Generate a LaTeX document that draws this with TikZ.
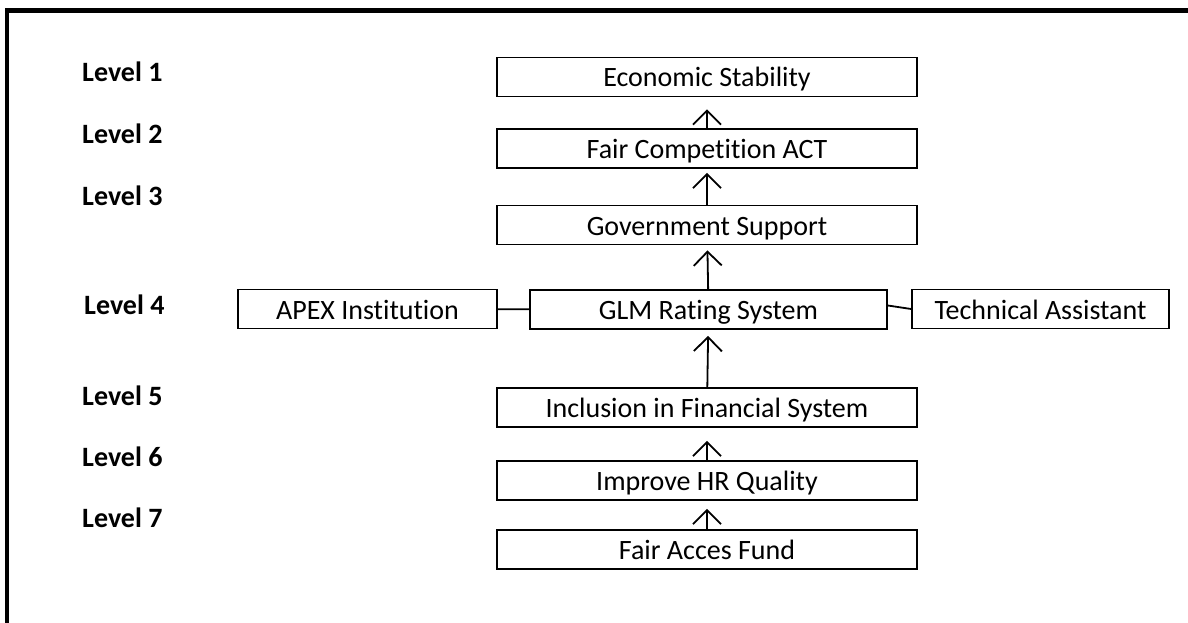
\documentclass[tikz,border=0pt]{standalone}
\usepackage{fontspec}
\setmainfont{Carlito}[Ligatures=NoCommon]
\usetikzlibrary{arrows.meta}
\begin{document}
\begin{tikzpicture}[x=1pt,y=-1pt,
  box/.style={draw,line width=1.8pt,inner sep=0pt,minimum height=39pt,text height=21pt,text depth=1pt,font=\fontsize{28}{33}\selectfont},
  lvl/.style={anchor=base west,inner sep=0pt,font=\fontsize{28}{33}\selectfont\bfseries},
  up/.style={-{Straight Barb[length=14pt,width=28pt]},line width=1.8pt}]
\useasboundingbox (0,0) rectangle (1188,623);
\draw[line width=4.3pt] (7,623) -- (7,10.5) -- (1188,10.5);

\node[lvl] (L1) at (82,82) {Level 1};
\node[lvl] (L2) at (82,143) {Level 2};
\node[lvl] (L3) at (82,205) {Level 3};
\node[lvl] (L4) at (84,314) {Level 4};
\node[lvl] (L5) at (82,405) {Level 5};
\node[lvl] (L6) at (82,466) {Level 6};
\node[lvl] (L7) at (82,527) {Level 7};

\node[box,minimum width=420pt] (E) at (707,77) {Economic Stability};
\node[box,minimum width=420pt] (F) at (707,148.5) {Fair Competition ACT};
\node[box,minimum width=420pt] (G) at (707,225) {Government Support};
\node[box,minimum width=357pt] (R) at (708.5,309.5) {GLM Rating System};
\node[box,minimum width=259pt] (A) at (367.5,309) {APEX Institution};
\node[box,minimum width=257pt] (T) at (1040.5,309) {Technical Assistant};
\node[box,minimum width=420pt] (I) at (707,407.5) {Inclusion in Financial System};
\node[box,minimum width=420pt] (H) at (707,480.5) {Improve HR Quality};
\node[box,minimum width=420pt] (C) at (707,549.5) {Fair Acces Fund};

\draw[up,shorten >=12pt] (F) -- (E);
\draw[up,shorten >=4pt] (G) -- (F);
\draw[up,shorten >=5pt] (R) -- (G);
\draw[up,shorten >=6pt] (I) -- (R);
\draw[up,shorten >=13pt] (H) -- (I);
\draw[up,shorten >=8pt] (C) -- (H);

\draw[line width=1.8pt] (A) -- (R);
\draw[line width=1.8pt] ([yshift=4pt]R.east) -- (T.west);
\end{tikzpicture}
\end{document}
